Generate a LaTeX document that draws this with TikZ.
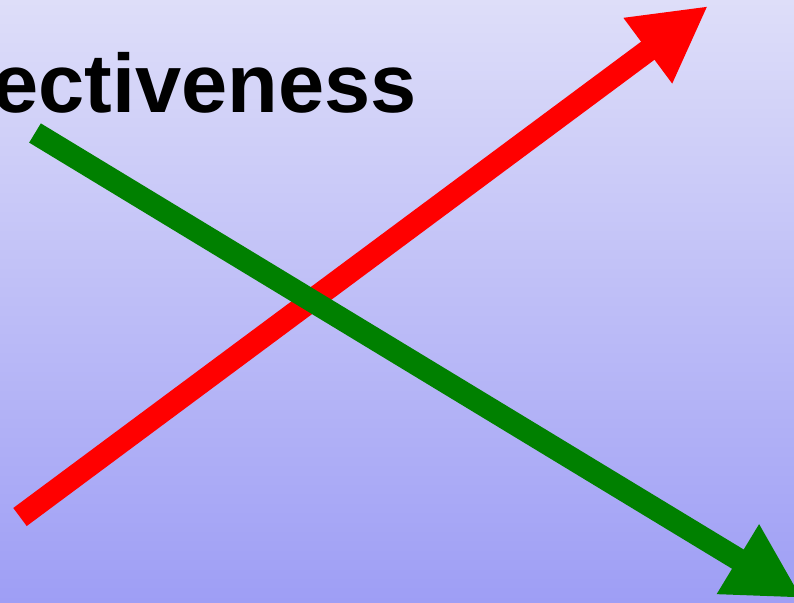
\documentclass[tikz,border=0pt]{standalone}
\usepackage{fontspec}
\setmainfont{Liberation Sans}
\usetikzlibrary{arrows.meta}
\definecolor{bgtop}{RGB}{222,222,249}
\definecolor{bgbot}{RGB}{158,158,245}
\definecolor{arrred}{RGB}{255,0,0}
\definecolor{arrgreen}{RGB}{0,128,0}
\tikzset{
  bigarrow/.style={line width=22.5pt, line cap=butt,
    -{Triangle[length=75pt,width=76pt]}},
  titletext/.style={inner sep=0pt, font=\fontsize{83}{90}\selectfont\bfseries}
}
\begin{document}
\begin{tikzpicture}[x=1pt,y=-1pt]
\useasboundingbox (0,0) rectangle (794,602);
\clip (0,0) rectangle (794,602);
\shade[top color=bgtop, bottom color=bgbot] (0,0) rectangle (794,602);
\node[titletext, anchor=base east] (title) at (417,112) {ectiveness};
\coordinate (rstart) at (20,517);
\coordinate (rend) at (708,6);
\coordinate (gstart) at (35,133);
\coordinate (gend) at (802,598);
\draw[bigarrow, draw=arrred, fill=arrred] (rstart) -- (rend);
\draw[bigarrow, draw=arrgreen, fill=arrgreen] (gstart) -- (gend);
\end{tikzpicture}
\end{document}
